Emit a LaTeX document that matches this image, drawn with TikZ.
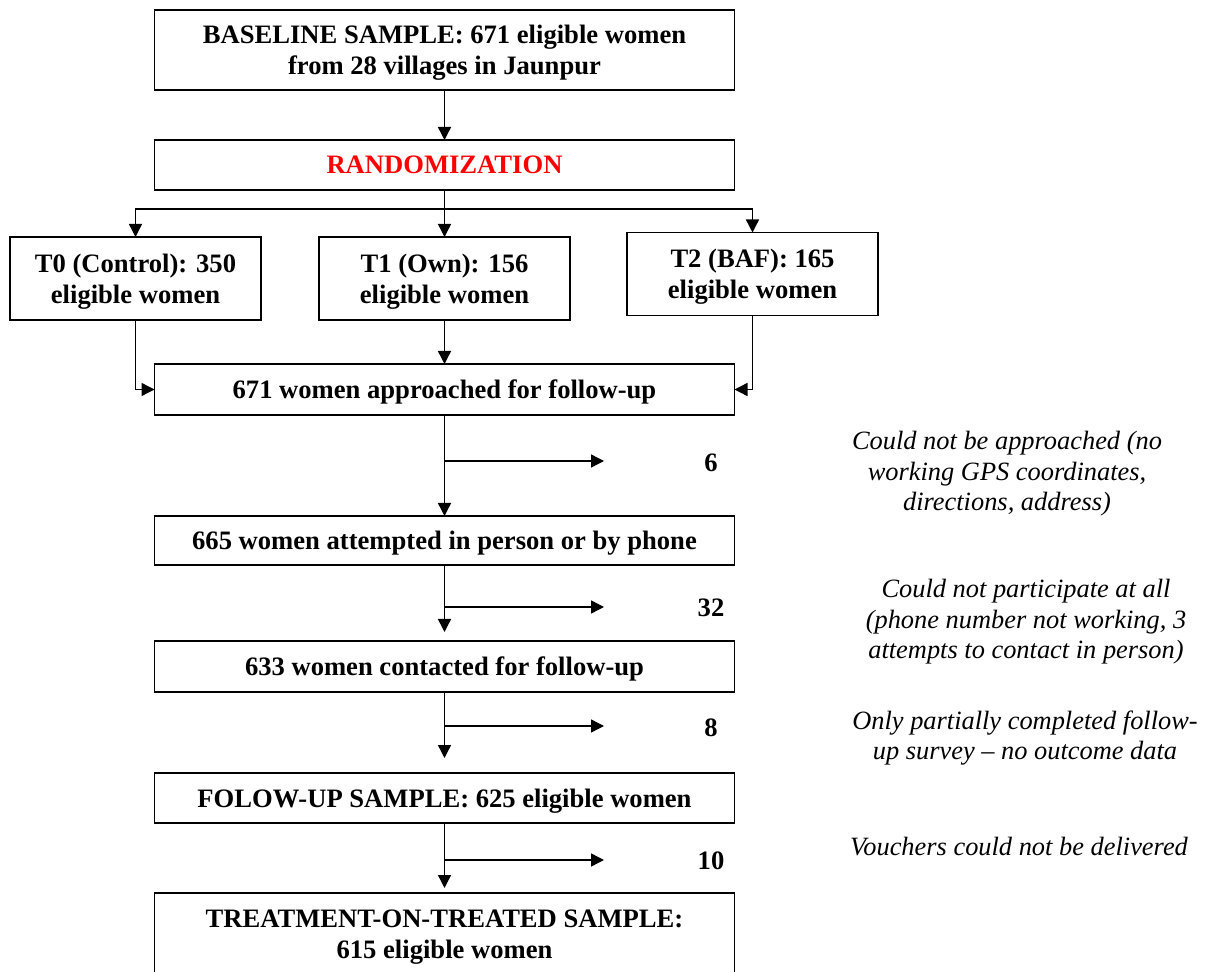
\documentclass[tikz,border=0pt]{standalone}
\usepackage{fontspec}
\setmainfont{Liberation Serif}
\usepackage{tikz}
\usetikzlibrary{arrows.meta,positioning}

\tikzset{
  box/.style={rectangle, draw, line width=0.7pt, minimum width=290pt, inner sep=0pt, outer sep=0pt, text depth=0pt, align=center, font=\fontsize{13.3}{15.7}\selectfont\bfseries},
  armbox/.style={box, minimum width=125.5pt, minimum height=41.5pt},
  note/.style={align=center, font=\fontsize{13.2}{15.25}\selectfont\itshape},
  count/.style={font=\fontsize{13.3}{15.5}\selectfont\bfseries},
  arr/.style={-{Triangle[length=6.5pt,width=6.5pt]}, line width=0.7pt},
}

\begin{document}
\begin{tikzpicture}[x=0.5pt, y=-0.5pt]
    \useasboundingbox (0,0) rectangle (1210,972);

    % Nodes
    \node (base) [box, minimum height=40pt] at (444.5,50) {BASELINE SAMPLE: 671 eligible women\\from 28 villages in Jaunpur};
    \node (rand) [box, minimum height=25pt, below=25pt of base, text=red] {RANDOMIZATION};

    \node (t1) [armbox, below=23.5pt of rand] {T1 (Own): 156\\eligible women};
    \node (t0) [armbox, left=29pt of t1] {T0 (Control): 350\\eligible women};
    \node (t2) [armbox, right=28.5pt of t1, yshift=2.25pt] {T2 (BAF): 165\\eligible women};

    \node (appr) [box, minimum height=25.5pt, below=22pt of t1] {671 women approached for follow-up};
    \node (att) [box, minimum height=24.5pt, below=50.5pt of appr] {665 women attempted in person or by phone};
    \node (cont) [box, minimum height=25.5pt, below=38pt of att] {633 women contacted for follow-up};
    \node (fu) [box, minimum height=25pt, below=40.5pt of cont] {FOLOW-UP SAMPLE: 625 eligible women};
    \node (tot) [box, minimum height=41pt, below=35pt of fu] {TREATMENT-ON-TREATED SAMPLE:\\615 eligible women};

    % Drop-outs
    \coordinate (out6) at (604,461);
    \coordinate (out32) at (604,607);
    \coordinate (out8) at (604,726);
    \coordinate (out10) at (604,860);
    \node (n6) [count] at (711,463) {6};
    \node (n32) [count] at (711,608) {32};
    \node (n8) [count] at (711,728) {8};
    \node (n10) [count] at (711,861) {10};

    \node (why6) [note] at (1007,474) {Could not be approached (no\\working GPS coordinates,\\directions, address)};
    \node (why32) [note] at (1026,622) {Could not participate at all\\(phone number not working, 3\\attempts to contact in person)};
    \node (why8) [note] at (1025,738) {Only partially completed follow-\\up survey -- no outcome data};
    \node (why10) [note] at (1019,847) {Vouchers could not be delivered};

    % Edges
    \draw[arr] (base) -- (rand);
    \coordinate (split) at (444.5,209);
    \draw[line width=0.7pt] (rand) -- (split);
    \draw[arr] (split) -- (t1);
    \draw[arr] (split) -| (t0);
    \draw[arr] (split) -| (t2);

    \draw[arr] (t0) |- (appr);
    \draw[arr] (t1) -- (appr);
    \draw[arr] (t2) |- (appr);

    \draw[arr] (appr) -- (att);
    \draw[arr, shorten >=4.5pt] (att) -- (cont);
    \draw[arr, shorten >=7.5pt] (cont) -- (fu);
    \draw[arr, shorten >=2.5pt] (fu) -- (tot);

    \draw[arr] (appr.south |- out6) -- (out6);
    \draw[arr] (att.south |- out32) -- (out32);
    \draw[arr] (cont.south |- out8) -- (out8);
    \draw[arr] (fu.south |- out10) -- (out10);
\end{tikzpicture}
\end{document}
